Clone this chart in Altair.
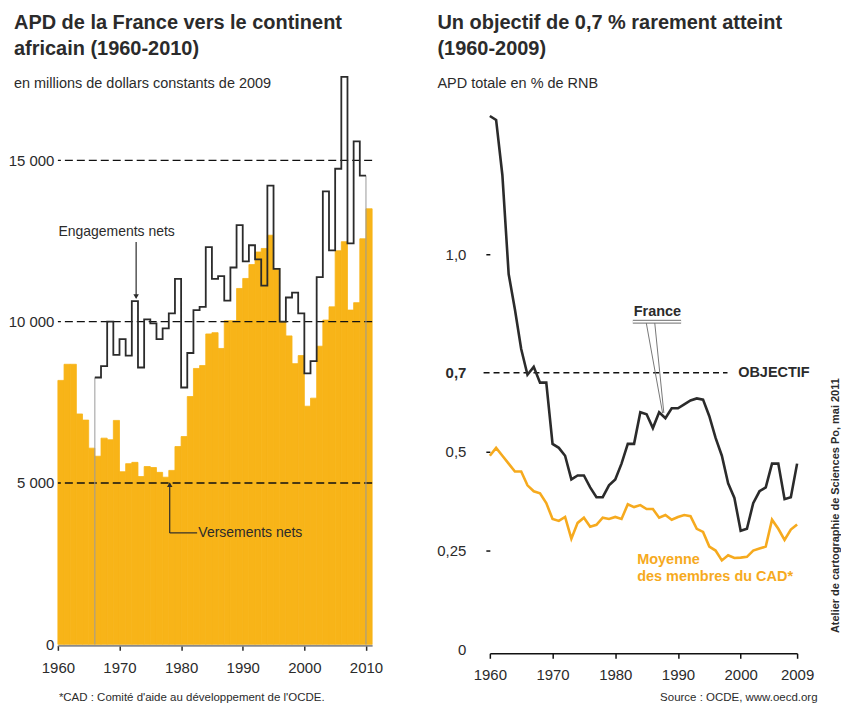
import altair as alt
import pandas as pd

# ---------------- data ----------------
years_left = list(range(1960, 2011))
versements = [8180, 8680, 8680, 7140, 6950, 6080, 5830, 6390, 6340, 6940,
              5350, 5600, 5640, 5200, 5510, 5480, 5330, 5180, 5390, 6130,
              6440, 7680, 8550, 8640, 9620, 9660, 9170, 10030, 10030, 11030,
              11340, 11770, 12160, 12270, 12680, 11650, 9980, 9560, 8700, 8950,
              7380, 7630, 9240, 10050, 10460, 12200, 12480, 10360, 10590, 12570,
              13500]
eng_years = list(range(1966, 2010))
engagements = [8270, 8620, 10000, 8970, 9460, 8950, 10640, 8580, 10070, 9950,
               9460, 9790, 10260, 11330, 7960, 9030, 10360, 10460, 12310, 11330,
               11410, 10650, 11680, 12990, 11870, 12370, 11930, 11120, 14220, 11640,
               10000, 10750, 10900, 10260, 8400, 8780, 11380, 14040, 12210, 14740,
               17590, 12430, 15590, 14530]
left_gridlines = [5000, 10000, 15000]
left_ticks_x = [1960, 1970, 1980, 1990, 2000, 2010]
left_ticks_y = [0, 5000, 10000, 15000]

years_right = list(range(1960, 2010))
france = [1.35, 1.34, 1.20, 0.95, 0.86, 0.76, 0.695, 0.715, 0.675, 0.675,
          0.52, 0.51, 0.49, 0.43, 0.44, 0.44, 0.41, 0.385, 0.385, 0.415,
          0.43, 0.47, 0.52, 0.52, 0.60, 0.595, 0.56, 0.60, 0.585, 0.61,
          0.61, 0.62, 0.63, 0.635, 0.632, 0.59, 0.535, 0.49, 0.42, 0.383,
          0.30, 0.305, 0.37, 0.40, 0.41, 0.47, 0.47, 0.38, 0.385, 0.47]
cad = [0.49, 0.51, 0.49, 0.47, 0.45, 0.45, 0.415, 0.40, 0.395, 0.37,
       0.33, 0.325, 0.335, 0.28, 0.32, 0.333, 0.31, 0.315, 0.333, 0.33,
       0.335, 0.33, 0.367, 0.36, 0.365, 0.355, 0.355, 0.333, 0.34, 0.328,
       0.335, 0.34, 0.337, 0.305, 0.297, 0.26, 0.25, 0.225, 0.238, 0.231,
       0.232, 0.234, 0.25, 0.255, 0.26, 0.328, 0.305, 0.277, 0.303, 0.316]
objectif = 0.7
right_ticks_x = [1960, 1970, 1980, 1990, 2000, 2009]
right_ticks_y = [0, 0.25, 0.5, 0.7, 1.0]

# ---------------- styles ----------------
FONT = "Liberation Sans"
DARK = "#2b2b2b"
ORANGE_BAR = "#F8B418"
ORANGE_LINE = "#F6AA1E"
GREY = "#9a9a9a"


def one(text=""):
    return pd.DataFrame({"t": [text]})


def ptext(text, x, y, size, weight="normal", color=DARK, align="left",
          baseline="alphabetic", angle=0):
    return alt.Chart(one(text)).mark_text(
        align=align, baseline=baseline, fontSize=size, fontWeight=weight,
        color=color, font=FONT, angle=angle
    ).encode(x=alt.value(x), y=alt.value(y), text="t:N")


def dtext(text, x, y, size, weight="normal", color=DARK, align="left",
          baseline="middle"):
    return alt.Chart(one(text)).mark_text(
        align=align, baseline=baseline, fontSize=size, fontWeight=weight,
        color=color, font=FONT
    ).encode(x=alt.datum(x), y=alt.datum(y), text="t:N")


def seg(x, y, x2, y2, color=DARK, width=1.2):
    return alt.Chart(one()).mark_rule(color=color, strokeWidth=width).encode(
        x=alt.datum(x), y=alt.datum(y), x2=alt.datum(x2), y2=alt.datum(y2))


# ---------------- left panel ----------------
LW, LH = 315, 589
xL_scale = alt.Scale(domain=[1960, 2011], nice=False, zero=False)
yL_scale = alt.Scale(domain=[0, 18213], nice=False)

bars_df = pd.DataFrame({"year": years_left,
                        "year_end": [y + 1 for y in years_left],
                        "value": versements})
eng_df = pd.DataFrame({"year": eng_years + [eng_years[-1] + 1],
                       "value": engagements + [engagements[-1]]})
edge_df = pd.DataFrame({"year": [eng_years[0], eng_years[-1] + 1],
                        "value": [engagements[0], engagements[-1]]})
grid_df = pd.DataFrame({"value": left_gridlines})

bars = alt.Chart(bars_df).mark_rect(
    color=ORANGE_BAR, stroke=ORANGE_BAR, strokeWidth=0.8).encode(
    x=alt.X("year:Q", scale=xL_scale, title=None,
            axis=alt.Axis(values=left_ticks_x, format="d", domainColor="#8a8a8a",
                          domainWidth=2, tickColor=DARK, tickWidth=1.5, tickSize=5,
                          labelPadding=10, offset=1, grid=False, labelFlush=False)),
    x2="year_end:Q",
    y=alt.Y("value:Q", scale=yL_scale, title=None,
            axis=alt.Axis(values=left_ticks_y, domain=False, ticks=False, grid=False,
                          labelPadding=4, labelFlush=False,
                          labelExpr="replace(format(datum.value, ',d'), ',', ' ')")),
    y2=alt.datum(0),
)

gridrules = alt.Chart(grid_df).mark_rule(
    color="#111", strokeWidth=1.3, strokeDash=[8, 4]).encode(y="value:Q")

edges = alt.Chart(edge_df).mark_rule(color=GREY, strokeWidth=1).encode(
    x="year:Q", y="value:Q", y2=alt.datum(0))

steps = alt.Chart(eng_df).mark_line(
    interpolate="step-after", color=DARK, strokeWidth=1.8).encode(
    x="year:Q", y="value:Q")

eng_label = dtext("Engagements nets", 1960.1, 12770, 14)
eng_arrow = seg(1972.7, 12470, 1972.7, 10750)
eng_head = alt.Chart(one()).mark_point(
    shape="triangle-down", filled=True, size=30, color=DARK, opacity=1).encode(
    x=alt.datum(1972.7), y=alt.datum(10780))

ver_v = seg(1978.15, 4980, 1978.15, 3454)
ver_h = seg(1978.15, 3454, 1982.6, 3454)
ver_head = alt.Chart(one()).mark_point(
    shape="triangle-up", filled=True, size=30, color=DARK, opacity=1).encode(
    x=alt.datum(1978.15), y=alt.datum(4950))
ver_label = dtext("Versements nets", 1982.8, 3454, 14)

l_title1 = ptext("APD de la France vers le continent", -44, -28, 20, "bold")
l_title2 = ptext("africain (1960-2010)", -44, -2, 20, "bold")
l_sub = ptext("en millions de dollars constants de 2009", -44, 31, 14.5)
l_foot = ptext("*CAD : Comité d'aide au développement de l'OCDE.", 1, 643, 11.5,
               baseline="middle")

left = alt.layer(
    bars, gridrules, edges, steps, eng_label, eng_arrow, eng_head,
    ver_v, ver_h, ver_head, ver_label, l_title1, l_title2, l_sub, l_foot
).properties(width=LW, height=LH)

# ---------------- right panel ----------------
RW, RH = 308, 594
xR_scale = alt.Scale(domain=[1960, 2009], nice=False, zero=False)
yR_scale = alt.Scale(domain=[0, 1.5], nice=False)

lines_df = pd.DataFrame({"year": years_right, "france": france, "cad": cad})

obj_rule = alt.Chart(one()).mark_rule(
    color="#111", strokeWidth=1.3, strokeDash=[6, 4]).encode(
    x=alt.datum(1959), x2=alt.datum(1997.9), y=alt.datum(objectif))

cad_line = alt.Chart(lines_df).mark_line(color=ORANGE_LINE, strokeWidth=2.6).encode(
    x=alt.X("year:Q", scale=xR_scale, title=None,
            axis=alt.Axis(values=right_ticks_x, format="d", domainColor="#111",
                          domainWidth=1.5, tickColor="#111", tickWidth=1.5, tickSize=5,
                          offset=4, labelPadding=9, grid=False, labelFlush=False)),
    y=alt.Y("cad:Q", scale=yR_scale, title=None,
            axis=alt.Axis(values=right_ticks_y, domain=False, grid=False, tickSize=4,
                          tickColor="#111", tickWidth=1.5, labelPadding=20,
                          labelFlush=False,
                          tickOpacity={"condition": {"test": "datum.value == 0 || datum.value == 0.7",
                                                     "value": 0}, "value": 1},
                          labelFontWeight={"condition": {"test": "datum.value == 0.7",
                                                         "value": "bold"}, "value": "normal"},
                          labelExpr="datum.value == 1 ? '1,0' : replace(format(datum.value, '.2~f'), '.', ',')")),
)
fr_line = alt.Chart(lines_df).mark_line(color=DARK, strokeWidth=2.6).encode(
    x="year:Q", y="france:Q")

fr_label = dtext("France", 1982.95, 0.843, 14.5, "bold", baseline="alphabetic")
fr_under_a = seg(1982.8, 0.829, 1990.5, 0.829, color="#8a8a8a", width=4)
fr_under_b = seg(1982.8, 0.829, 1990.5, 0.829, color="white", width=1.6)
fr_lead1 = seg(1984.95, 0.826, 1987.55, 0.598, color="#777", width=1)
fr_lead2 = seg(1986.3, 0.826, 1987.75, 0.598, color="#777", width=1)

obj_label = dtext("OBJECTIF", 1999.6, objectif, 14.5, "bold")
moy1 = dtext("Moyenne", 1983.5, 0.227, 14.5, "bold", color=ORANGE_LINE)
moy2 = dtext("des membres du CAD*", 1983.5, 0.182, 14.5, "bold", color=ORANGE_LINE)

r_title1 = ptext("Un objectif de 0,7 % rarement atteint", -52.5, -28, 20, "bold")
r_title2 = ptext("(1960-2009)", -52.5, -2, 20, "bold")
r_sub = ptext("APD totale en % de RNB", -52.5, 31, 14.5)
r_foot = ptext("Source : OCDE, www.oecd.org", 328.5, 643, 11.5, align="right",
               baseline="middle")
credit = ptext("Atelier de cartographie de Sciences Po, mai 2011", 347, 450, 11,
               "bold", align="center", baseline="middle", angle=270)

right = alt.layer(
    obj_rule, cad_line, fr_line, fr_under_a, fr_under_b, fr_lead1, fr_lead2,
    fr_label, obj_label, moy1, moy2, r_title1, r_title2, r_sub, r_foot, credit
).properties(width=RW, height=RH)

chart = alt.hconcat(left, right, spacing=53).properties(
    padding={"left": 0, "top": 4, "right": 0, "bottom": 0}
).configure(font=FONT).configure_view(stroke=None).configure_axis(
    labelFont=FONT, labelFontSize=15, labelColor=DARK)

chart.save("out.html", embed_options={"renderer": "svg", "actions": False})
